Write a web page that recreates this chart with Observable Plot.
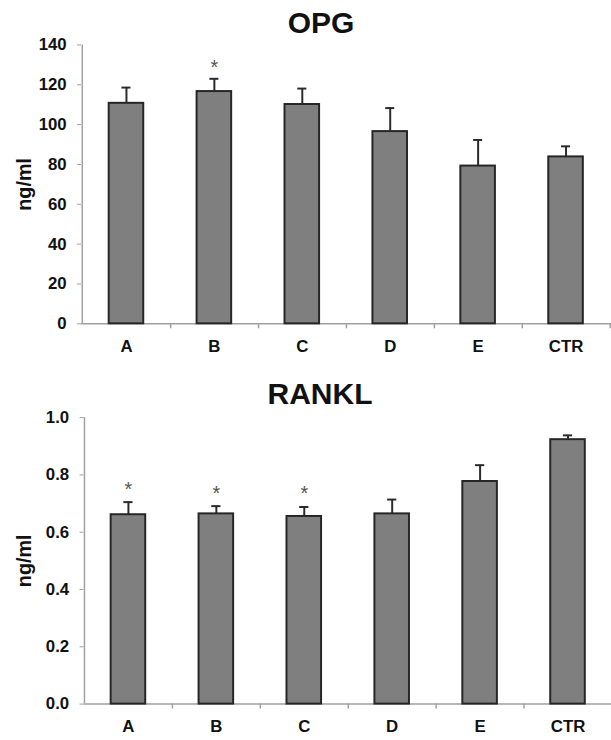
<!DOCTYPE html>
<html>
<head>
<meta charset="utf-8">
<script src="https://cdn.jsdelivr.net/npm/d3@7"></script>
<script src="https://cdn.jsdelivr.net/npm/@observablehq/plot@0.6"></script>
<style>
  html, body { margin: 0; padding: 0; background: #fff; overflow: hidden; width: 611px; height: 740px; }
  #wrap { position: relative; width: 611px; height: 740px; overflow: hidden; }
  .panel { position: absolute; left: 0; z-index: 1; }
  .title { position: absolute; z-index: 2; font-family: "Liberation Sans", Arial, sans-serif; font-weight: bold;
           font-size: 30px; line-height: 1; color: #111; transform: translateX(-50%); white-space: nowrap; }
</style>
</head>
<body>
<div id="wrap">
  <div class="panel" id="p1" style="top:0px;"></div>
  <div class="panel" id="p2" style="top:370px;"></div>
  <div class="title" id="t1" style="left:321px; top:8px;">OPG</div>
  <div class="title" id="t2" style="left:320px; top:379px;">RANKL</div>
</div>
<script>
const categories = ["A", "B", "C", "D", "E", "CTR"];

const opgMean = [110.7, 116.6, 110.1, 96.5, 79.2, 83.8];
const opgErr  = [7.9, 6.4, 8.0, 11.8, 13.1, 5.3];
const opgSig  = [false, true, false, false, false, false];
const opgTicks = [0, 20, 40, 60, 80, 100, 120, 140];

const rankMean = [0.661, 0.664, 0.655, 0.664, 0.777, 0.923];
const rankErr  = [0.044, 0.027, 0.033, 0.050, 0.057, 0.015];
const rankSig  = [true, true, true, false, false, false];
const rankTicks = [0, 0.2, 0.4, 0.6, 0.8, 1.0];

const yLabel = "ng/ml";
const FONT = "Liberation Sans, Arial, sans-serif";
const GRAY = "#a0a0a0";

function chart({means, errs, sig, ticks, fmt, marginTop, marginBottom, marginLeft, height, starOffset}) {
  const data = categories.map((c, i) => ({cat: c, mean: means[i], hi: means[i] + errs[i], sig: sig[i]}));
  const yMax = ticks[ticks.length - 1];
  const width = 618.5;
  const step = (width - marginLeft) / categories.length;
  const bandwidth = step * 0.39;
  const capInset = (bandwidth - 9) / 2;
  const plotH = height - marginTop - marginBottom;
  const tickLen = 5 * yMax / plotH;
  return Plot.plot({
    width, height, marginTop, marginBottom, marginLeft, marginRight: 0,
    style: {fontFamily: FONT, background: "white", color: "#111", overflow: "visible"},
    x: {domain: categories, paddingInner: 0.61, paddingOuter: 0.305, align: 0.5, axis: null, label: null},
    y: {domain: [0, yMax], axis: null, label: null},
    marks: [
      Plot.ruleX([categories[0]], {x: d => d, dx: -step / 2, stroke: GRAY, strokeWidth: 1.5}),
      Plot.ruleY([0], {stroke: GRAY, strokeWidth: 1.5}),
      Plot.ruleX(categories, {x: d => d, dx: step / 2, y1: 0, y2: -tickLen, stroke: GRAY, strokeWidth: 1.5}),
      Plot.axisY({ticks, tickFormat: fmt, tickSize: 4, tickPadding: 11, stroke: GRAY, fill: "#111",
                  fontSize: 17, fontWeight: "bold", fontFamily: FONT, label: null}),
      Plot.axisX({tickSize: 0, tickPadding: 16, fill: "#111", fontSize: 17, fontWeight: "bold",
                  fontFamily: FONT, label: null}),
      Plot.ruleX(data, {x: "cat", y1: "mean", y2: "hi", stroke: "#2a2a2a", strokeWidth: 2}),
      Plot.tickY(data, {x: "cat", y: "hi", insetLeft: capInset, insetRight: capInset, stroke: "#2a2a2a", strokeWidth: 2}),
      Plot.barY(data, {x: "cat", y: "mean", fill: "#7f7f7f", stroke: "#262626", strokeWidth: 2}),
      Plot.text(data.filter(d => d.sig), {x: "cat", y: "hi", text: () => "*", dy: -starOffset,
                  fontSize: 20, fill: "#555", fontFamily: FONT}),
      Plot.text([yLabel], {frameAnchor: "left", rotate: -90, dx: 24 - marginLeft, text: d => d,
                  fontSize: 20, fontWeight: "bold", fill: "#111", fontFamily: FONT, textAnchor: "middle"})
    ]
  });
}

document.getElementById("p1").appendChild(chart({
  means: opgMean, errs: opgErr, sig: opgSig, ticks: opgTicks, fmt: d3.format("d"),
  marginTop: 45, marginBottom: 42.7, marginLeft: 82, height: 370, starOffset: 11
}));
document.getElementById("p2").appendChild(chart({
  means: rankMean, errs: rankErr, sig: rankSig, ticks: rankTicks, fmt: d3.format(".1f"),
  marginTop: 47.7, marginBottom: 32.3, marginLeft: 84.5, height: 370, starOffset: 13
}));
</script>
</body>
</html>
